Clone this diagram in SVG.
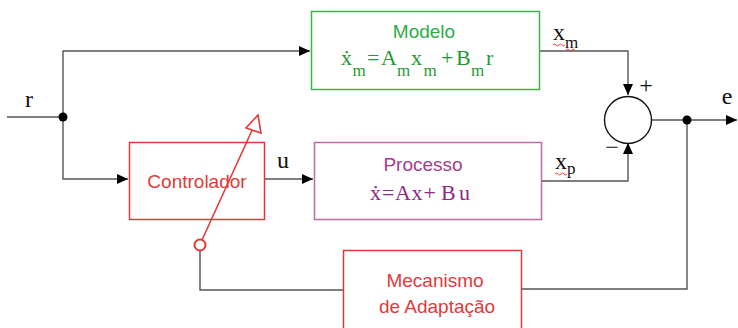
<svg xmlns="http://www.w3.org/2000/svg" width="738" height="328" viewBox="0 0 738 328">
<defs>
<marker id="ah" markerUnits="userSpaceOnUse" markerWidth="12" markerHeight="10" refX="11" refY="5" orient="auto">
<path d="M0,0 L11,5 L0,10 Z" fill="#000"/>
</marker>
<style>
.ln{fill:none;stroke:#555;stroke-width:1.4}
.sans{font-family:"Liberation Sans",Arial,sans-serif;font-size:19px}
.ser{font-family:"Liberation Serif","DejaVu Serif",serif}
.lab{font-family:"Liberation Serif","DejaVu Serif",serif;font-size:24px;fill:#111}
.sub{font-size:17px}
.sq{fill:none;stroke:#e03030;stroke-width:0.9}
</style>
</defs>
<rect width="738" height="328" fill="#fff"/>
<g id="connectors">
<path class="ln" d="M7,117 H63 V51 H310" marker-end="url(#ah)"/>
<path class="ln" d="M63,117 V179 H128" marker-end="url(#ah)"/>
<path class="ln" d="M265,179 H313" marker-end="url(#ah)"/>
<path class="ln" d="M539,51 H628 V95" marker-end="url(#ah)"/>
<path class="ln" d="M542,181 H628 V143" marker-end="url(#ah)"/>
<path class="ln" d="M651,120 H737" marker-end="url(#ah)"/>
<path class="ln" d="M687,120 V289 H521"/>
<path class="ln" d="M343,290 H200 V251"/>
<circle cx="63" cy="117" r="4.5" fill="#000"/>
<circle cx="687" cy="120" r="4.5" fill="#000"/>
</g>
<g id="labels">
<text class="lab" x="29" y="107" text-anchor="middle">r</text>
<text class="lab" x="283" y="168" text-anchor="middle">u</text>
<text class="lab" x="553" y="40">x<tspan class="sub" x="565" y="48">m</tspan></text>
<path class="sq" d="M553,45 q1.5,-2 3,0 t3,0 t3,0 t3,0 M566,50 q1.5,-2 3,0 t3,0 t3,0"/>
<text class="lab" x="555" y="169">x<tspan class="sub" x="567" y="174">p</tspan></text>
<path class="sq" d="M555,174 q1.5,-2 3,0 t3,0 t3,0 t3,0"/>
<text class="lab" x="646" y="93" text-anchor="middle">+</text>
<text class="lab" x="612" y="155" text-anchor="middle">−</text>
<text class="lab" x="727" y="104" text-anchor="middle">e</text>
</g>
<g id="sum">
<circle cx="628" cy="120" r="23.5" fill="#fff" stroke="#111" stroke-width="1.4"/>
</g>
<g id="modelo">
<rect x="311.5" y="11.5" width="228" height="78" fill="#fff" stroke="#3cb44b" stroke-width="1.5"/>
<text class="sans" x="424" y="38" text-anchor="middle" fill="#2eac48">Modelo</text>
<text class="ser" font-size="22" fill="#1f9a34" y="65"><tspan x="341">ẋ</tspan><tspan class="sub" x="352.5" y="76">m</tspan><tspan x="367" y="65">=</tspan><tspan x="381">A</tspan><tspan class="sub" x="397" y="76">m</tspan><tspan x="411" y="65">x</tspan><tspan class="sub" x="423.5" y="76">m</tspan><tspan x="441" y="65">+</tspan><tspan x="456">B</tspan><tspan class="sub" x="471" y="76">m</tspan><tspan x="486" y="65">r</tspan></text>
</g>
<g id="controlador">
<rect x="129.5" y="142.5" width="135" height="77" fill="#fff" stroke="#e03a3a" stroke-width="1.5"/>
<text class="sans" x="197" y="188" text-anchor="middle" fill="#e03a3a">Controlador</text>
</g>
<g id="processo">
<rect x="314.5" y="142.5" width="227" height="77" fill="#fff" stroke="#c06aa8" stroke-width="1.5"/>
<text class="sans" x="423" y="171" text-anchor="middle" fill="#a33d8e">Processo</text>
<text class="ser" font-size="22" fill="#8e2a82" y="200"><tspan x="370">ẋ</tspan><tspan x="382">=</tspan><tspan x="395">A</tspan><tspan x="411.5">x</tspan><tspan x="423.5">+</tspan><tspan x="441">B</tspan><tspan x="459">u</tspan></text>
</g>
<g id="mecanismo">
<rect x="343.5" y="250.5" width="178" height="90" fill="#fff" stroke="#e03a3a" stroke-width="1.5"/>
<text class="sans" x="435" y="287" text-anchor="middle" fill="#e03a3a">Mecanismo</text>
<text class="sans" x="437" y="313" text-anchor="middle" fill="#e03a3a">de Adaptação</text>
</g>
<g id="adaptive-arrow">
<line x1="202" y1="240" x2="254" y2="126" stroke="#e03a3a" stroke-width="1.6"/>
<path d="M258,115 L246,128 L261,133 Z" fill="#fff" stroke="#e03a3a" stroke-width="1.6"/>
<circle cx="200" cy="245" r="5.5" fill="#fff" stroke="#e03a3a" stroke-width="2"/>
</g>
</svg>
